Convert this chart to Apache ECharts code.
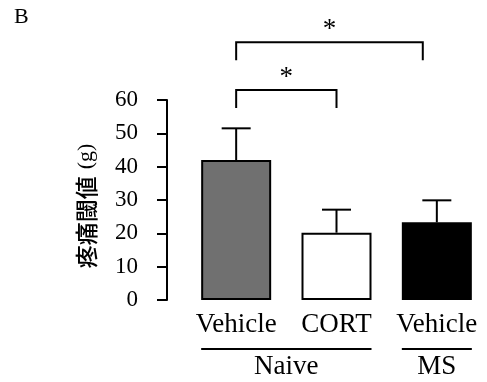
<!DOCTYPE html>
<html>
<head>
<meta charset="utf-8">
<script src="https://cdn.jsdelivr.net/npm/echarts@6/dist/echarts.min.js"></script>
<style>html,body{margin:0;padding:0;background:#fff}#c{width:487px;height:382px}</style>
</head>
<body>
<div id="c"></div>
<script>
// ---- data ----
var categories = ['Vehicle', 'CORT', 'Vehicle'];
var means = [42, 20.2, 23.3];
var errUpper = [51.5, 27.1, 29.9];
var barColors = ['#707070', '#ffffff', '#000000'];
var yTicks = [0, 10, 20, 30, 40, 50, 60];
var groupNames = ['Naive', 'MS'];
var groupStart = [0, 2];
var groupEnd = [1, 2];
var bracketFrom = [0, 0];
var bracketTo = [1, 1.86];
var bracketY = [63, 77.3];
var bracketLabel = ['*', '*'];

var SERIF = '"Liberation Serif","Times New Roman",serif';
var BAR_W = 70;

var chart = echarts.init(document.getElementById('c'), null, {renderer: 'canvas'});

var option = {
  backgroundColor: '#fff',
  animation: false,
  title: {
    text: 'B', left: 9, top: 1,
    textStyle: {fontFamily: SERIF, fontSize: 22, fontWeight: 'normal', color: '#000'}
  },
  grid: {left: 186, top: 100, width: 311, bottom: 82, containLabel: false},
  xAxis: [{
    type: 'category',
    data: categories,
    axisLine: {show: false},
    axisTick: {show: false},
    axisLabel: {fontFamily: SERIF, fontSize: 27, color: '#000', margin: 11, interval: 0}
  }, {
    type: 'value', min: -0.5, max: 2.5, show: false
  }],
  yAxis: {
    type: 'value', min: yTicks[0], max: yTicks[yTicks.length - 1], interval: 10,
    offset: 19,
    splitLine: {show: false},
    axisLine: {show: true, onZero: false, lineStyle: {color: '#000', width: 2}},
    axisTick: {show: true, length: 10, lineStyle: {color: '#000', width: 2}},
    axisLabel: {fontFamily: SERIF, fontSize: 23, color: '#000', margin: 29},
    name: '{a|疼痛閾値}{s| }{b|(g)}',
    nameLocation: 'middle',
    nameRotate: 90,
    nameGap: 69,
    nameTextStyle: {
      padding: [0, 12, 0, 0],
      rich: {
        a: {fontFamily: '"Noto Sans CJK JP"', fontSize: 23, fontWeight: 500, color: '#000'},
        s: {fontSize: 10, width: 7},
        b: {fontFamily: SERIF, fontSize: 22, color: '#000'}
      }
    }
  },
  series: [{
    type: 'bar',
    xAxisIndex: 0,
    barWidth: BAR_W,
    data: means.map(function (v, i) {
      return {value: v, itemStyle: {color: barColors[i], borderColor: '#000', borderWidth: 2}};
    })
  }, {
    type: 'custom',
    xAxisIndex: 1,
    clip: false,
    z: 1,
    data: means.map(function (v, i) { return [i, v, errUpper[i]]; }),
    renderItem: function (params, api) {
      var top = api.coord([api.value(0), api.value(2)]);
      var base = api.coord([api.value(0), api.value(1)]);
      var cap = 14.5;
      var st = {stroke: '#000', lineWidth: 2};
      return {type: 'group', children: [
        {type: 'line', shape: {x1: top[0], y1: base[1], x2: top[0], y2: top[1]}, style: st},
        {type: 'line', shape: {x1: top[0] - cap, y1: top[1], x2: top[0] + cap, y2: top[1]}, style: st}
      ]};
    }
  }, {
    type: 'custom',
    xAxisIndex: 1,
    clip: false,
    data: bracketFrom.map(function (f, i) { return [f, bracketTo[i], bracketY[i], i]; }),
    renderItem: function (params, api) {
      var p1 = api.coord([api.value(0), api.value(2)]);
      var p2 = api.coord([api.value(1), api.value(2)]);
      var leg = 18;
      var st = {stroke: '#000', lineWidth: 2, fill: null};
      return {type: 'group', children: [
        {type: 'polyline', shape: {points: [[p1[0], p1[1] + leg], [p1[0], p1[1]], [p2[0], p1[1]], [p2[0], p1[1] + leg]]}, style: st},
        {type: 'text', style: {text: bracketLabel[api.value(3)], x: (p1[0] + p2[0]) / 2, y: p1[1] - 12,
          align: 'center', verticalAlign: 'middle', font: '27px ' + SERIF, fill: '#000'}}
      ]};
    }
  }, {
    type: 'custom',
    xAxisIndex: 1,
    clip: false,
    data: groupNames.map(function (g, i) { return [groupStart[i], groupEnd[i], i]; }),
    renderItem: function (params, api) {
      var a = api.coord([api.value(0), 0]);
      var b = api.coord([api.value(1), 0]);
      var x1 = a[0] - BAR_W / 2, x2 = b[0] + BAR_W / 2;
      var y = a[1] + 49;
      return {type: 'group', children: [
        {type: 'line', shape: {x1: x1, y1: y, x2: x2, y2: y}, style: {stroke: '#000', lineWidth: 2}},
        {type: 'text', style: {text: groupNames[api.value(2)], x: (x1 + x2) / 2, y: y + 18,
          align: 'center', verticalAlign: 'middle', font: '27px ' + SERIF, fill: '#000'}}
      ]};
    }
  }]
};
chart.setOption(option);
</script>
</body>
</html>
